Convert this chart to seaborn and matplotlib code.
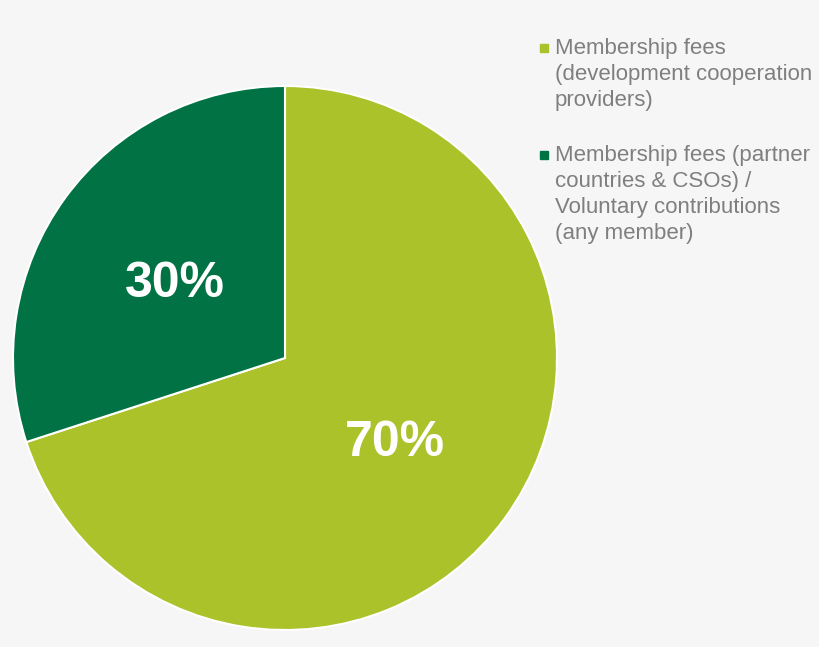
import matplotlib.pyplot as plt
import seaborn as sns
from matplotlib.patches import Rectangle

# data
labels = [
    "Membership fees\n(development cooperation\nproviders)",
    "Membership fees (partner\ncountries & CSOs) /\nVoluntary contributions\n(any member)",
]
shares = [70, 30]
colors = ["#acc22b", "#007244"]

bg = "#f6f6f6"
text_grey = "#7f7f7f"

sns.set_theme(style="white", rc={"figure.facecolor": bg, "axes.facecolor": bg})
plt.rcParams["font.family"] = ["Liberation Sans", "DejaVu Sans"]

W, H = 820, 647
fig = plt.figure(figsize=(W / 100, H / 100), dpi=100)

# pie centre and radius in pixels
cx, cy, r = 285, 358, 272
ax = fig.add_axes([(cx - r) / W, (H - cy - r) / H, 2 * r / W, 2 * r / H])
ax.set_facecolor(bg)

wedges, texts, autotexts = ax.pie(
    shares,
    colors=colors,
    startangle=90,
    counterclock=False,
    autopct=lambda p: f"{p:.0f}%",
    pctdistance=0.5,
    wedgeprops={"edgecolor": "white", "linewidth": 1.5},
    textprops={"color": "white", "fontsize": 36, "fontweight": "bold"},
)
for t in autotexts:
    x, y = t.get_position()
    t.set_position((x, y - 0.02))
ax.set_xlim(-1, 1)
ax.set_ylim(-1, 1)
ax.axis("off")

# legend, drawn by hand so the square sits on the first line
legend_y = [48, 155]
for lab, col, y in zip(labels, colors, legend_y):
    fig.patches.append(Rectangle((540 / W, (H - y - 4) / H), 8 / W, 8 / H,
                                 transform=fig.transFigure, color=col))
    fig.text(555 / W, (H - y + 10) / H, lab, ha="left", va="top",
             fontsize=16, color=text_grey, linespacing=1.32,
             transform=fig.transFigure)

fig.savefig("out.png", dpi=100, facecolor=bg)
